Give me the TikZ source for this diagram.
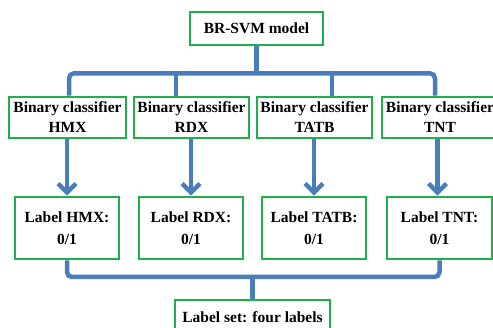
\documentclass[tikz,border=0pt]{standalone}
\usepackage{fontspec}
\setmainfont{Liberation Serif}
\usetikzlibrary{arrows.meta}
\definecolor{boxgreen}{HTML}{1DB04B}
\definecolor{linkblue}{HTML}{4A7EBB}
\tikzset{
  gbox/.style={draw=boxgreen, line width=2.6pt, fill=white, inner sep=0pt, align=center,
    font=\fontsize{15.5}{20}\selectfont\bfseries},
  lbox/.style={gbox, minimum height=62pt, font=\fontsize{15.5}{22}\selectfont\bfseries},
  bus/.style={draw=linkblue, line width=4.5pt, rounded corners=5pt},
  arr/.style={draw=linkblue, line width=4.5pt, -{Straight Barb[length=9pt,width=18pt]}},
}
\begin{document}
\begin{tikzpicture}[x=1pt,y=-1pt]
\useasboundingbox (0,0) rectangle (493,328);
% top
\node[gbox, minimum width=133pt, minimum height=33pt] (top) at (256.5,28.5) {BR-SVM model};
% classifiers
\node[gbox, minimum width=117pt, minimum height=41pt] (c1) at (67.5,117.5) {Binary classifier\\HMX};
\node[gbox, minimum width=115pt, minimum height=41pt] (c2) at (191.5,117.5) {Binary classifier\\RDX};
\node[gbox, minimum width=115pt, minimum height=41pt] (c3) at (314.5,117.5) {Binary classifier\\TATB};
\node[gbox, minimum width=116pt, minimum height=41pt] (c4) at (440,117.5) {Binary classifier\\TNT};
% labels
\node[lbox, minimum width=104pt] (l1) at (67,228) {Label HMX:\\0/1};
\node[lbox, minimum width=104pt] (l2) at (191,228) {Label RDX:\\0/1};
\node[lbox, minimum width=104pt] (l3) at (314,228) {Label TATB:\\0/1};
\node[lbox, minimum width=105pt] (l4) at (439.5,228) {Label TNT:\\0/1};
% bottom
\node[gbox, minimum width=155pt, minimum height=34pt] (bot) at (252.5,317) {Label set: four labels};
% coordinates
\coordinate (jt) at ([yshift=-27pt]top.south);
\coordinate (jb) at (bot.north |- 0,277);
% top tree
\draw[bus] ([xshift=1.5pt]c1.north) |- (jt) -| ([xshift=-5pt]c4.north);
\draw[bus] (top.south) -- (jt);
\draw[bus] ([xshift=-15.5pt]c2.north) -- ([xshift=-15.5pt]c2.north |- jt);
\draw[bus] ([xshift=17.5pt]c3.north) -- ([xshift=17.5pt]c3.north |- jt);
% arrows
\draw[arr] (l1.north |- c1.south) -- (l1.north);
\draw[arr] (l2.north |- c2.south) -- (l2.north);
\draw[arr] (l3.north |- c3.south) -- (l3.north);
\draw[arr] ([xshift=-2pt]l4.north |- c4.south) -- ([xshift=-2pt]l4.north);
% bottom tree
\draw[bus] (l1.south) |- (jb) -| (l4.south);
\draw[bus] (jb) -- (bot.north);
\end{tikzpicture}
\end{document}
